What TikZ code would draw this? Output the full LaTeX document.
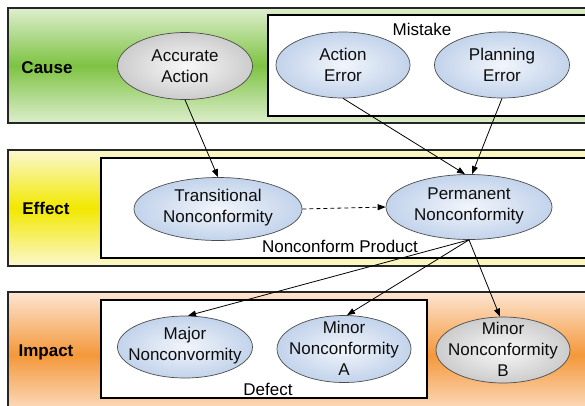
\documentclass[tikz,border=0pt]{standalone}
\usepackage{fontspec}
\setmainfont{Liberation Sans}
\usetikzlibrary{shapes.geometric,arrows.meta}

\definecolor{ellblueIn}{HTML}{F2F5FB}
\definecolor{ellblueOut}{HTML}{C2D3EB}
\definecolor{ellgreyIn}{HTML}{F8F8F8}
\definecolor{ellgreyOut}{HTML}{CCCCCC}
\definecolor{causeEdge}{HTML}{DDEECD}
\definecolor{causeMid}{HTML}{7EC343}
\definecolor{effectEdge}{HTML}{FBF8CF}
\definecolor{effectMid}{HTML}{F2E800}
\definecolor{impactEdge}{HTML}{FDE5D2}
\definecolor{impactMid}{HTML}{F4983A}

\begin{document}
\begin{tikzpicture}[x=1pt,y=-1pt,
  band/.style={draw=black!85,line width=1.6pt},
  frame/.style={draw=black,line width=1.8pt,fill=white},
  ell/.style={ellipse,draw=black!70,line width=0.7pt,inner sep=0pt},
  blueell/.style={ell,inner color=ellblueIn,outer color=ellblueOut},
  greyell/.style={ell,inner color=ellgreyIn,outer color=ellgreyOut},
  txt/.style={align=center,font=\fontsize{17}{21}\selectfont,text=black!95,inner sep=0pt},
  lbl/.style={anchor=base,font=\fontsize{17}{21}\selectfont,inner sep=0pt},
  bandlbl/.style={anchor=base,font=\fontsize{17}{21}\selectfont\bfseries,inner sep=0pt},
  arr/.style={draw=black,line width=0.8pt,-{Triangle[length=8pt,width=6pt]}}
]
\useasboundingbox (0,0) rectangle (585,405);
\clip (0,0) rectangle (585,405);
\fill[white] (0,0) rectangle (585,405);

% the three bands
\draw[band,top color=causeEdge,bottom color=causeEdge,middle color=causeMid]
  (8,8) rectangle (600,123);
\draw[band,top color=effectEdge,bottom color=effectEdge,middle color=effectMid]
  (8,150) rectangle (600,266);
\draw[band,top color=impactEdge,bottom color=impactEdge,middle color=impactMid]
  (8,292) rectangle (600,418);

% grouping frames
\draw[frame] (268,15) rectangle (600,116);
\draw[frame] (101,158) rectangle (600,258);
\draw[frame] (101,300) rectangle (427,398);

% band and frame titles
\node[bandlbl] (cause)  at (47,73)  {Cause};
\node[bandlbl] (effect) at (46,214) {Effect};
\node[bandlbl] (impact) at (46,356) {Impact};
\node[lbl] (mistake) at (422,35)  {Mistake};
\node[lbl] (product) at (340,252) {Nonconform Product};
\node[lbl] (defect)  at (268,395) {Defect};

% ellipses
\node[greyell,minimum width=135pt,minimum height=67pt] (acc)  at (185,66)  {};
\node[blueell,minimum width=134pt,minimum height=66pt] (aerr) at (343,65)  {};
\node[blueell,minimum width=135pt,minimum height=66pt] (perr) at (502,65)  {};
\node[blueell,minimum width=168pt,minimum height=63pt] (trans) at (218,209) {};
\node[blueell,minimum width=166pt,minimum height=65pt] (perm) at (469,207) {};
\node[blueell,minimum width=135pt,minimum height=62pt] (major) at (185,347) {};
\node[blueell,minimum width=134pt,minimum height=67pt] (minA) at (344,349) {};
\node[greyell,minimum width=134pt,minimum height=66pt] (minB) at (503,350) {};

% ellipse texts
\node[txt] (accT)   at (acc)   {Accurate\\Action};
\node[txt] (aerrT)  at (aerr)  {Action\\Error};
\node[txt] (perrT)  at (perr)  {Planning\\Error};
\node[txt] (transT) at ([yshift=1.5pt]trans) {Transitional\\Nonconformity};
\node[txt] (permT)  at ([yshift=1.5pt]perm)  {Permanent\\Nonconformity};
\node[txt] (majorT) at ([yshift=1.5pt]major) {Major\\Nonconvormity};
\node[txt] (minAT)  at ([yshift=1pt]minA)   {Minor\\Nonconformity\\A};
\node[txt] (minBT)  at ([yshift=1pt]minB)   {Minor\\Nonconformity\\B};

% connectors
\draw[arr] (acc.south) -- (trans.north);
\draw[arr] (aerr.south) -- ([xshift=-4pt]perm.north);
\draw[arr] (perr.south) -- ([xshift=3pt]perm.north);
\draw[arr,dash pattern=on 4pt off 3pt] (trans.east) -- (perm.west);
\draw[arr] (perm.south) -- ([xshift=3pt]major.north);
\draw[arr] (perm.south) -- ([xshift=3pt]minA.north);
\draw[arr] (perm.south) -- ([xshift=-3pt]minB.north);
\end{tikzpicture}
\end{document}
